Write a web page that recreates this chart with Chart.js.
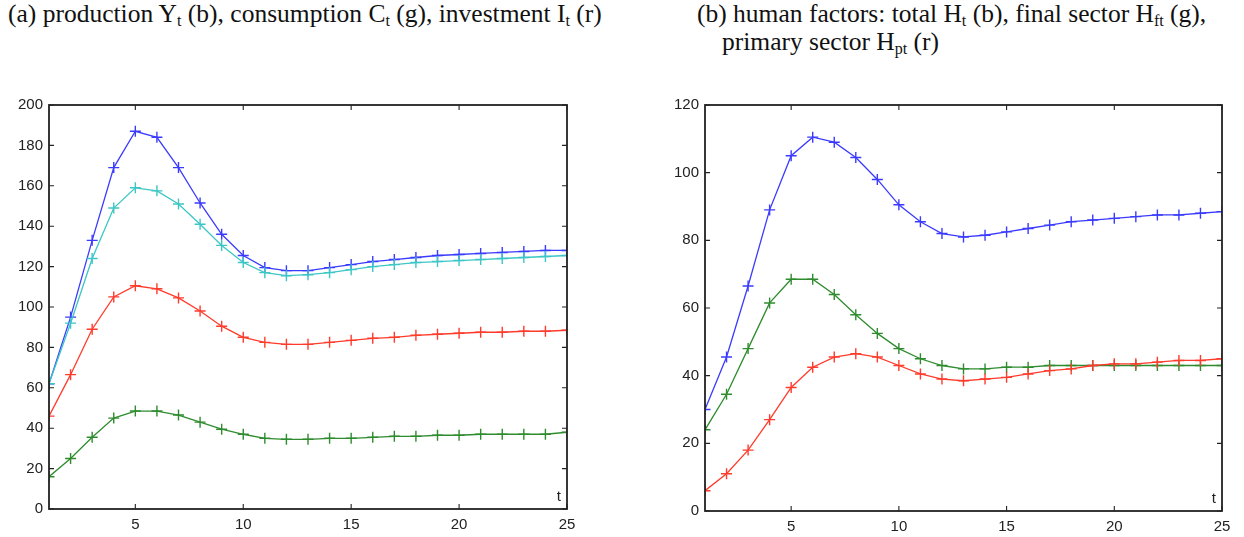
<!DOCTYPE html>
<html lang="en">
<head>
<meta charset="UTF-8">
<title>Production and human factors</title>
<script src="https://cdn.jsdelivr.net/npm/chart.js@4.4.1/dist/chart.umd.min.js"></script>
<style>
    body { margin: 0; background: #fff; width: 1244px; height: 537px; position: relative; overflow: hidden; }
    .title { position: absolute; font-family: "Liberation Serif", serif; font-size: 25.5px; color: #111; white-space: nowrap; line-height: 27px; }
    .title sub { font-size: 16px; vertical-align: -4px; line-height: 0; }
    .box { position: absolute; top: 90px; height: 447px; }
</style>
</head>
<body>
    <div class="title" style="left:8px; top:0px;">(a) production Y<sub>t</sub> (b), consumption C<sub>t</sub> (g), investment I<sub>t</sub> (r)</div>
    <div class="title" style="left:697px; top:0px;">(b) human factors: total H<sub>t</sub> (b), final sector H<sub>ft</sub> (g),</div>
    <div class="title" style="left:722px; top:28px;">primary sector H<sub>pt</sub> (r)</div>

    <div class="box" style="left:0; width:600px;"><canvas id="chartA"></canvas></div>
    <div class="box" style="left:640px; width:604px;"><canvas id="chartB"></canvas></div>

<script>
    // periods
    const periods = [1, 2, 3, 4, 5, 6, 7, 8, 9, 10, 11, 12, 13, 14, 15, 16, 17, 18, 19, 20, 21, 22, 23, 24, 25];
    const xTicks = [5, 10, 15, 20, 25];

    // panel (a)
    const production = [62, 95, 133, 169, 187, 184, 169, 151.5, 136, 125.5, 119.5, 118, 118, 119.5, 121, 122.5, 123.5, 124.5, 125.5, 126, 126.5, 127, 127.5, 128, 128];
    const productionCyan = [62, 92, 124, 149, 159, 157.5, 151, 141, 130.5, 122, 117, 115.5, 116, 117, 118.5, 120, 121, 122, 122.5, 123, 123.5, 124, 124.5, 125, 125.5];
    const investmentRed = [46, 66.5, 89, 105, 110.5, 109, 104.5, 98, 90.5, 85, 82.5, 81.5, 81.5, 82.5, 83.5, 84.5, 85, 86, 86.5, 87, 87.5, 87.5, 88, 88, 88.5];
    const consumptionGreen = [16, 25, 35.5, 45, 48.5, 48.5, 46.5, 43, 39.5, 37, 35, 34.5, 34.5, 35, 35, 35.5, 36, 36, 36.5, 36.5, 37, 37, 37, 37, 38];

    // panel (b)
    const humanTotal = [30, 45.5, 66.5, 89, 105, 110.5, 109, 104.5, 98, 90.5, 85.5, 82, 81, 81.5, 82.5, 83.5, 84.5, 85.5, 86, 86.5, 87, 87.5, 87.5, 88, 88.5];
    const humanFinal = [24, 34.5, 48, 61.5, 68.5, 68.5, 64, 58, 52.5, 48, 45, 43, 42, 42, 42.5, 42.5, 43, 43, 43, 43, 43, 43, 43, 43, 43];
    const humanPrimary = [6, 11, 18, 27, 36.5, 42.5, 45.5, 46.5, 45.5, 43, 40.5, 39, 38.5, 39, 39.5, 40.5, 41.5, 42, 43, 43.5, 43.5, 44, 44.5, 44.5, 45];

    const BLUE = '#3b3bff', CYAN = '#3cc6c6', RED = '#ff3b2b', GREEN = '#2e8c2e';
    const TICK_FONT = { family: '"Liberation Sans", Arial, sans-serif', size: 15 };

    function series(values, color) {
        return {
            data: values.map((v, i) => ({ x: periods[i], y: v })),
            borderColor: color,
            backgroundColor: color,
            borderWidth: 1.3,
            pointStyle: 'cross',
            pointRadius: 5.5,
            pointBorderWidth: 1.4,
            fill: false,
            tension: 0
        };
    }

    // matlab-like frame: box with inward ticks, plus the "t" label
    const framePlugin = {
        id: 'frame',
        afterDraw(chart) {
            const { ctx, chartArea: a, scales } = chart;
            ctx.save();
            ctx.strokeStyle = '#222';
            ctx.lineWidth = 1.8;
            ctx.strokeRect(a.left, a.top, a.right - a.left, a.bottom - a.top);
            ctx.lineWidth = 1.1;
            const len = 5;
            ctx.beginPath();
            scales.x.ticks.forEach(t => {
                const px = scales.x.getPixelForValue(t.value);
                ctx.moveTo(px, a.bottom); ctx.lineTo(px, a.bottom - len);
                ctx.moveTo(px, a.top); ctx.lineTo(px, a.top + len);
            });
            scales.y.ticks.forEach(t => {
                const py = scales.y.getPixelForValue(t.value);
                ctx.moveTo(a.left, py); ctx.lineTo(a.left + len, py);
                ctx.moveTo(a.right, py); ctx.lineTo(a.right - len, py);
            });
            ctx.stroke();
            ctx.fillStyle = '#222';
            ctx.font = '15px "Liberation Sans", Arial, sans-serif';
            ctx.textAlign = 'right';
            ctx.textBaseline = 'bottom';
            ctx.fillText('t', a.right - 6, a.bottom - 5);
            ctx.restore();
        }
    };

    function makeChart(id, datasets, yMax, yWidth, xHeight, padRight, padTop) {
        return new Chart(document.getElementById(id).getContext('2d'), {
            type: 'line',
            data: { datasets: datasets },
            options: {
                responsive: true,
                maintainAspectRatio: false,
                animation: false,
                layout: { padding: { left: 0, right: padRight, top: padTop, bottom: 0 } },
                plugins: { legend: { display: false }, tooltip: { enabled: false } },
                scales: {
                    x: {
                        type: 'linear',
                        min: 1,
                        max: 25,
                        afterBuildTicks: s => { s.ticks = xTicks.map(v => ({ value: v })); },
                        afterFit: s => { s.height = xHeight; },
                        grid: { display: false, drawTicks: false },
                        border: { display: false },
                        ticks: { color: '#222', padding: 7, font: TICK_FONT }
                    },
                    y: {
                        min: 0,
                        max: yMax,
                        ticks: { stepSize: 20, color: '#222', padding: 6, font: TICK_FONT },
                        afterFit: s => { s.width = yWidth; },
                        grid: { display: false, drawTicks: false },
                        border: { display: false }
                    }
                }
            },
            plugins: [framePlugin]
        });
    }

    makeChart('chartA', [
        series(consumptionGreen, GREEN),
        series(investmentRed, RED),
        series(productionCyan, CYAN),
        series(production, BLUE)
    ], 200, 49, 28, 33, 11);

    makeChart('chartB', [
        series(humanPrimary, RED),
        series(humanFinal, GREEN),
        series(humanTotal, BLUE)
    ], 120, 65, 26, 22, 13);
</script>
</body>
</html>
